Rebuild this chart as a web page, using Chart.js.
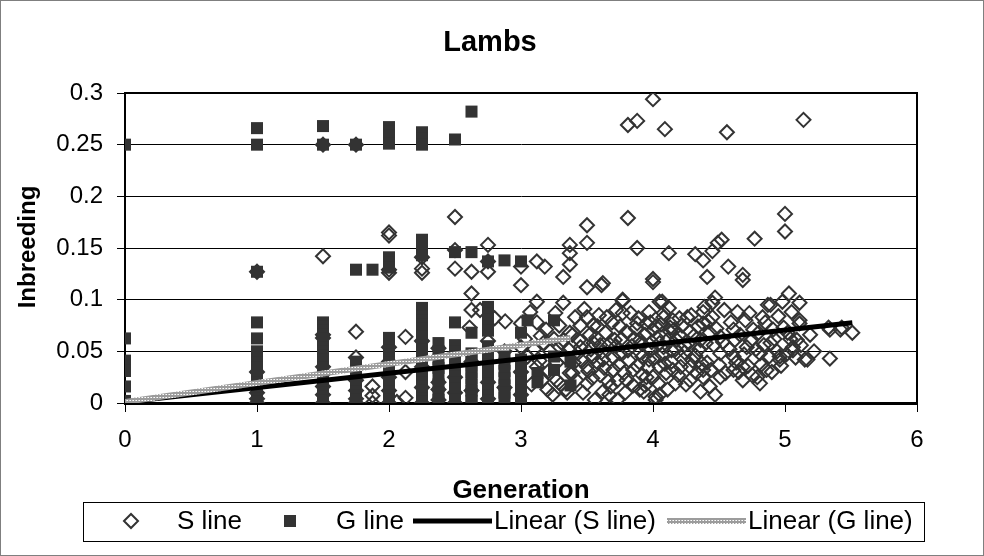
<!DOCTYPE html>
<html><head><meta charset="utf-8">
<script src="https://cdn.jsdelivr.net/npm/chart.js@4.4.0/dist/chart.umd.min.js"></script>
<style>html,body{margin:0;padding:0;background:#fff}canvas{display:block}</style>
</head><body>
<canvas id="c" width="984" height="556"></canvas>
<script>
const chartTitle = 'Lambs';
const xAxisTitle = 'Generation';
const yAxisTitle = 'Inbreeding';
const xTickValues = [0,1,2,3,4,5,6];
const xTickLabels = ['0','1','2','3','4','5','6'];
const yTickValues = [0,0.05,0.1,0.15,0.2,0.25,0.3];
const yTickLabels = ['0','0.05','0.1','0.15','0.2','0.25','0.3'];
const seriesNames = ['S line','G line','Linear (S line)','Linear (G line)'];

const sLinePoints = [
[0,0],
[1,0.127],[1,0.03],[1,0.018],[1,0.01],[1,0.004],[1,0],
[1.5,0.25],[1.5,0.142],[1.5,0.066],[1.5,0.063],[1.5,0.035],[1.5,0.028],[1.5,0.016],[1.5,0.008],[1.5,0],
[1.75,0.25],[1.75,0.069],[1.75,0.044],[1.75,0.022],[1.75,0.012],[1.75,0.004],[1.75,0],
[1.875,0.016],[1.875,0.007],[1.875,0],
[2,0.165],[2,0.162],[2,0.129],[2,0.126],[2,0.054],[2,0.04],[2,0.025],[2,0.012],[2,0],
[2.125,0.064],[2.125,0.03],[2.125,0.005],[2.06,0.001],
[2.25,0.141],[2.25,0.13],[2.25,0.126],[2.25,0.06],[2.25,0.035],[2.25,0.015],[2.25,0],
[2.375,0.053],[2.375,0.02],[2.375,0.013],[2.375,0.003],
[2.5,0.18],[2.5,0.148],[2.5,0.13],[2.5,0.048],[2.5,0.025],[2.5,0.01],[2.5,0],
[2.625,0.127],[2.625,0.106],[2.61,0.073],[2.625,0.09],[2.625,0.04],[2.625,0.012],
[2.69,0.09],[2.75,0.153],[2.75,0.137],[2.75,0.127],[2.75,0.06],[2.75,0.02],[2.75,0.004],
[2.8,0.082],[2.88,0.079],[2.875,0.05],[2.875,0.015],
[3,0.132],[3,0.114],[3,0.077],[3,0.054],[3,0.03],[3,0.008],
[3.05,0.045],[3.08,0.018],[3.22,0.05],[3.15,0.065],
[3.12,0.137],[3.18,0.132],[3.12,0.098],[3.12,0.078],[3.12,0.035],[3.16,0.022],[3.24,0.008],
[3.26,0.087],[3.32,0.122],[3.32,0.097],[3.37,0.153],[3.37,0.145],[3.37,0.134],[3.37,0.068],[3.34,0.013],[3.37,0.029],[3.31,0.058],[3.4,0.039],[3.33,0.045],
[3.5,0.172],[3.5,0.155],[3.5,0.112],[3.5,0.083],[3.43,0.048],[3.5,0.035],[3.5,0.019],[3.47,0.01],[3.52,0.066],[3.45,0.075],
[3.58,0.074],[3.62,0.116],[3.65,0.083],[3.58,0.039],[3.62,0.011],[3.6,0.027],[3.55,0.058],
[3.75,0.074],[3.77,0.1],[3.81,0.179],[3.81,0.269],[3.88,0.273],[3.88,0.15],[3.83,0.087],[3.89,0.082],[3.7,0.032],[3.75,0.048],[3.8,0.022],[3.79,0.01],[3.85,0.032],[3.72,0.055],[3.68,0.016],[3.86,0.062],[3.92,0.045],
[3.95,0.077],[4,0.294],[4,0.12],[4.02,0.074],[4.07,0.098],[4.08,0.087],[4.09,0.265],[4.12,0.145],[4.15,0.08],[3.93,0.011],[3.97,0.042],[4,0.025],[4.08,0.054],[4.11,0.013],[4.15,0.032],[4.18,0.061],[4.05,0.035],[4.02,0.006],[4.13,0.069],
[3.17,0.058],[3.27,0.039],[3.39,0.029],[3.51,0.031],[3.62,0.042],[3.73,0.022],[3.9,0.049],[3.95,0.025],[4.09,0.038],[4.23,0.042],[4.28,0.022],[4.38,0.032],[3.35,0.01],[3.9,0.013],[3.2,0.013],[3.27,0.022],
[3.77,0.087],[3.98,0.078],[4.08,0.083],[4.2,0.082],[4.26,0.083],[4.38,0.088],[3.39,0.066],[3.55,0.075],[3.88,0.077],[4,0.071],[4.13,0.073],[4.28,0.069],[4.38,0.077],
[3.61,0.114],[3.77,0.099],[4,0.117],[4.05,0.098],
[4.32,0.144],[4.38,0.138],[4.41,0.122],[4.45,0.147],[4.49,0.155],[4.52,0.158],[4.57,0.132],[4.68,0.124],[4.77,0.159],[5,0.183],[5,0.166],
[4.47,0.102],[4.45,0.097],[4.87,0.095],[4.98,0.098],[5.03,0.106],[5.11,0.097],[5.11,0.08],[5.33,0.073],[5.43,0.073],[5.51,0.068],[5.34,0.043],[5.15,0.042],[5.06,0.054],[4.56,0.262],[5.14,0.274],
[4.68,0.119],[4.89,0.095],[4.39,0.093],[4.64,0.088],[4.73,0.087],[4.83,0.083],[4.45,0.083],[5.11,0.077],[5.34,0.071],[5.42,0.071],
[5.17,0.042],[5.06,0.051],[5.09,0.061],[4.96,0.042],[4.89,0.058],[4.81,0.048],[4.71,0.054],[4.61,0.045],[4.51,0.048],[4.41,0.039],
[4.43,0.016],[4.38,0.025],[4.51,0.025],[4.61,0.032],[4.68,0.022],[4.79,0.025],[4.86,0.032],[4.96,0.045],[4.81,0.019],[4.68,0.035],
[4.51,0.064],[4.61,0.071],[4.76,0.071],[4.91,0.071],[5.02,0.068],[4.43,0.068],[4.36,0.061],
[3.32,0.061],[3.45,0.054],[3.55,0.045],[3.6,0.056],[3.71,0.061],[3.81,0.051],[3.9,0.061],[3.98,0.051],[4.05,0.058],[4.14,0.051],[4.24,0.056],[4.32,0.046],[4.28,0.035],[4.17,0.019],[4.05,0.008],[3.94,0.017],[3.67,0.008],[3.56,0.003],[3.73,0.003],[4.02,0.003],[4.36,0.011],[4.47,0.008],
[3.03,0.062],[3.07,0.088],[3.1,0.052],[3.14,0.041],[3.19,0.071],[3.21,0.031],[3.25,0.062],[3.29,0.075],[3.3,0.018],[3.36,0.052],[3.41,0.083],[3.42,0.022],[3.44,0.061],[3.46,0.041],[3.48,0.091],[3.53,0.052],[3.54,0.024],[3.57,0.063],[3.59,0.085],[3.61,0.049],[3.63,0.034],[3.64,0.068],[3.66,0.021],[3.67,0.057],[3.69,0.078],[3.7,0.044],[3.72,0.09],[3.74,0.037],[3.76,0.062],[3.78,0.029],[3.8,0.069],[3.82,0.041],[3.84,0.055],[3.85,0.017],[3.87,0.072],[3.88,0.036],[3.91,0.058],[3.92,0.027],[3.94,0.066],[3.96,0.034],[3.97,0.088],[3.99,0.059],[4.01,0.044],[4.03,0.063],[4.04,0.019],[4.06,0.076],[4.07,0.047],[4.1,0.029],[4.11,0.061],[4.12,0.092],[4.14,0.04],[4.16,0.071],[4.17,0.052],[4.19,0.027],[4.2,0.066],[4.21,0.035],[4.22,0.075],[4.24,0.049],[4.25,0.018],[4.27,0.058],[4.29,0.085],[4.3,0.041],[4.31,0.065],[4.33,0.029],[4.34,0.074],[4.35,0.052],[4.37,0.038],[4.4,0.058],[4.42,0.079],[4.44,0.032],[4.46,0.056],[4.48,0.072],[4.5,0.037],[4.53,0.059],[4.54,0.09],[4.55,0.029],[4.58,0.052],[4.59,0.078],[4.62,0.061],[4.63,0.039],[4.65,0.03],[4.66,0.066],[4.69,0.047],[4.7,0.08],[4.72,0.036],[4.74,0.06],[4.75,0.027],[4.78,0.052],[4.8,0.068],[4.82,0.037],[4.84,0.056],[4.85,0.078],[4.88,0.045],[4.9,0.03],[4.92,0.062],[4.94,0.05],[4.95,0.084],[4.97,0.036],[4.99,0.073],[5.01,0.047],[5.04,0.062],[5.05,0.088],[5.08,0.044],[5.12,0.056],[5.19,0.066],[5.22,0.05]
];

const gLinePoints = [
[0,0.25],[0,0.0625],[0,0.041],[0,0.036],[0,0.031],[0,0.016],[0,0.002],[0,0],
[1,0.266],[1,0.25],[1,0.127],[1,0.078],[1,0.0625],[1,0.05],[1,0.044],[1,0.039],[1,0.034],[1,0.03],[1,0.025],[1,0.02],[1,0.016],[1,0.012],[1,0.008],[1,0.004],[1,0.001],
[1.5,0.268],[1.5,0.25],[1.5,0.078],[1.5,0.074],[1.5,0.07],[1.5,0.066],[1.5,0.0625],[1.5,0.058],[1.5,0.054],[1.5,0.05],[1.5,0.046],[1.5,0.042],[1.5,0.038],[1.5,0.034],[1.5,0.03],[1.5,0.026],[1.5,0.022],[1.5,0.018],[1.5,0.014],[1.5,0.01],[1.5,0.006],[1.5,0.002],
[1.75,0.25],[1.75,0.129],[1.75,0.04],[1.75,0.035],[1.75,0.031],[1.75,0.027],[1.75,0.023],[1.75,0.019],[1.75,0.015],[1.75,0.011],[1.75,0.007],[1.75,0.003],
[1.875,0.129],
[2,0.267],[2,0.263],[2,0.259],[2,0.255],[2,0.251],[2,0.141],[2,0.136],[2,0.131],[2,0.063],[2,0.059],[2,0.055],[2,0.051],[2,0.047],[2,0.043],[2,0.039],[2,0.035],[2,0.031],[2,0.027],[2,0.023],[2,0.019],[2,0.015],[2,0.011],[2,0.007],[2,0.003],
[2.25,0.262],[2.25,0.256],[2.25,0.25],[2.25,0.158],[2.25,0.15],[2.25,0.143],[2.25,0.092],[2.25,0.088],[2.25,0.084],[2.25,0.08],[2.25,0.076],[2.25,0.072],[2.25,0.068],[2.25,0.064],[2.25,0.06],[2.25,0.056],[2.25,0.052],[2.25,0.048],[2.25,0.044],[2.25,0.04],[2.25,0.036],[2.25,0.032],[2.25,0.028],[2.25,0.024],[2.25,0.02],[2.25,0.016],[2.25,0.012],[2.25,0.008],[2.25,0.004],[2.25,0.001],
[2.375,0.058],[2.375,0.05],[2.375,0.042],[2.375,0.034],[2.375,0.026],[2.375,0.018],[2.375,0.01],[2.375,0.003],
[2.5,0.255],[2.5,0.146],[2.5,0.078],[2.5,0.056],[2.5,0.05],[2.5,0.044],[2.5,0.038],[2.5,0.032],[2.5,0.026],[2.5,0.02],[2.5,0.014],[2.5,0.008],[2.5,0.003],
[2.625,0.282],[2.625,0.146],[2.625,0.068],[2.625,0.048],[2.625,0.042],[2.625,0.036],[2.625,0.03],[2.625,0.024],[2.625,0.018],[2.625,0.012],[2.625,0.006],[2.625,0.002],
[2.75,0.137],[2.75,0.093],[2.75,0.087],[2.75,0.081],[2.75,0.075],[2.75,0.07],[2.75,0.055],[2.75,0.049],[2.75,0.043],[2.75,0.037],[2.75,0.031],[2.75,0.025],[2.75,0.019],[2.75,0.013],[2.75,0.007],[2.75,0.002],
[2.875,0.138],[2.875,0.045],[2.875,0.038],[2.875,0.031],[2.875,0.024],[2.875,0.017],[2.875,0.01],[2.875,0.005],
[3,0.137],[3.05,0.08],[3,0.068],[3,0.042],[3,0.035],[3,0.028],[3,0.02],[3,0.012],[3,0.005],
[3.125,0.029],[3.125,0.02],
[3.25,0.08],[3.25,0.045],[3.25,0.032],
[3.375,0.04],[3.375,0.017]
];

const sTrendPoints = [[0,0.001],[5.51,0.0776]];
const gTrendPoints = [[0,0.001],[3.375,0.063]];

const FONT = '"Liberation Sans", Arial, Helvetica, sans-serif';
const canvas = document.getElementById('c');
const ctx0 = canvas.getContext('2d');
function makePattern() {
  const p = document.createElement('canvas'); p.width = 3; p.height = 3;
  const g = p.getContext('2d');
  g.fillStyle = '#9c9c9c'; g.fillRect(0,0,3,3);
  g.fillStyle = '#ffffff'; g.fillRect(1,1,1,1);
  g.fillStyle = '#d6d6d6'; g.fillRect(0,1,1,1);
  return ctx0.createPattern(p, 'repeat');
}
const gPattern = makePattern();
const toXY = a => a.map(p => ({x: p[0], y: p[1]}));

const frame = {
  id: 'frame',
  beforeDraw(chart) {
    const c = chart.ctx; c.save();
    c.fillStyle = '#fff'; c.fillRect(0,0,chart.width,chart.height);
    c.strokeStyle = '#7f7f7f'; c.lineWidth = 1;
    c.strokeRect(0.5,0.5,chart.width-1,chart.height-1);
    c.restore();
  },
  beforeDatasetsDraw(chart) {
    const a = chart.chartArea, c = chart.ctx; c.save();
    c.strokeStyle = '#000'; c.lineWidth = 2;
    c.beginPath(); c.moveTo(a.left, a.top); c.lineTo(a.right, a.top); c.lineTo(a.right, a.bottom); c.stroke();
    c.restore();
  },
  afterDraw(chart) {
    const c = chart.ctx, a = chart.chartArea; c.save();
    c.fillStyle = '#000';
    c.textAlign = 'center'; c.textBaseline = 'alphabetic';
    c.font = 'bold 29px ' + FONT;
    c.fillText(chartTitle, 490, 51);
    c.font = 'bold 26px ' + FONT;
    c.fillText(xAxisTitle, (a.left + a.right) / 2, 498);
    c.font = 'bold 24px ' + FONT;
    c.save(); c.translate(35, 247); c.rotate(-Math.PI/2); c.fillText(yAxisTitle, 0, 0); c.restore();
    // legend
    c.strokeStyle = '#000'; c.lineWidth = 1;
    c.strokeRect(83.5, 502.5, 841, 39);
    const ly = 521;
    c.font = '26px ' + FONT; c.textAlign = 'left'; c.textBaseline = 'middle';
    c.strokeStyle = '#333'; c.lineWidth = 2;
    c.beginPath(); c.moveTo(124, ly); c.lineTo(131, ly-7); c.lineTo(138, ly); c.lineTo(131, ly+7); c.closePath(); c.stroke();
    c.fillStyle = '#000'; c.fillText(seriesNames[0], 177, ly+1);
    c.fillStyle = '#333'; c.fillRect(284, ly-6, 12, 12);
    c.fillStyle = '#000'; c.fillText(seriesNames[1], 336, ly+1);
    c.strokeStyle = '#000'; c.lineWidth = 5;
    c.beginPath(); c.moveTo(413, ly); c.lineTo(492, ly); c.stroke();
    c.fillText(seriesNames[2], 494, ly+1);
    c.strokeStyle = gPattern; c.lineWidth = 6;
    c.beginPath(); c.moveTo(667, ly); c.lineTo(746, ly); c.stroke();
    c.fillText(seriesNames[3], 748, ly+1);
    c.restore();
  }
};

new Chart(canvas, {
  type: 'scatter',
  data: {
    datasets: [
      { label: seriesNames[0], data: toXY(sLinePoints), pointStyle: 'rectRot', pointRadius: 7,
        pointBorderWidth: 2, pointBorderColor: '#333', pointBackgroundColor: 'rgba(0,0,0,0)', order: 4 },
      { label: seriesNames[1], data: toXY(gLinePoints), pointStyle: 'rect', pointRadius: 8.5,
        pointBorderWidth: 0, pointBorderColor: '#333', pointBackgroundColor: '#333', order: 3 },
      { label: seriesNames[2], data: toXY(sTrendPoints), showLine: true, pointRadius: 0,
        borderColor: '#000', borderWidth: 5, fill: false, order: 2 },
      { label: seriesNames[3], data: toXY(gTrendPoints), showLine: true, pointRadius: 0,
        borderColor: gPattern, borderWidth: 6, fill: false, order: 1 }
    ]
  },
  options: {
    responsive: false, animation: false, devicePixelRatio: 1,
    events: [],
    layout: { padding: { left: 0, right: 67, top: 93, bottom: 53 } },
    plugins: { legend: { display: false }, title: { display: false }, tooltip: { enabled: false } },
    scales: {
      x: {
        type: 'linear', min: 0, max: 6,
        afterBuildTicks(s) { s.ticks = xTickValues.map(v => ({ value: v })); },
        afterFit(s) { s.height = 100; },
        ticks: { callback: (v, i) => xTickLabels[i], font: { family: FONT, size: 24 }, color: '#000', padding: 14, maxRotation: 0, autoSkip: false },
        grid: { drawOnChartArea: false, drawTicks: true, tickLength: 9, color: '#000', lineWidth: 1 },
        border: { display: true, color: '#000', width: 3 }
      },
      y: {
        type: 'linear', min: 0, max: 0.3,
        afterBuildTicks(s) { s.ticks = yTickValues.map(v => ({ value: v })); },
        afterFit(s) { s.width = 125; },
        ticks: { callback: (v, i) => yTickLabels[i], font: { family: FONT, size: 24 }, color: '#000', padding: 14, autoSkip: false },
        grid: { color: '#000', lineWidth: 1, tickLength: 8, drawTicks: true },
        border: { display: true, color: '#000', width: 2 }
      }
    }
  },
  plugins: [frame]
});
</script>
</body></html>
